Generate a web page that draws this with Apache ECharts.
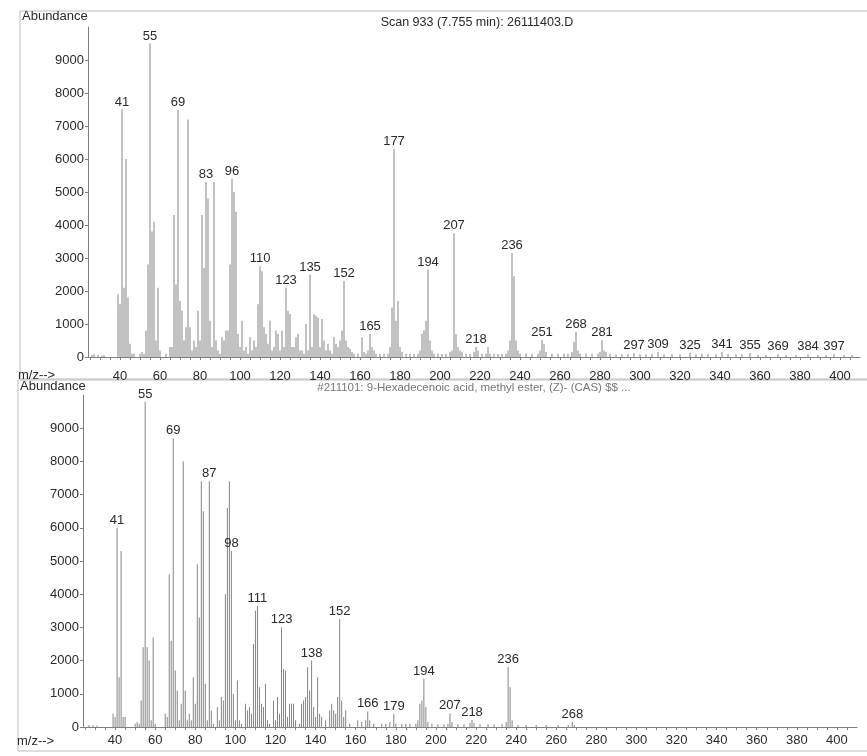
<!DOCTYPE html>
<html>
<head>
<meta charset="utf-8">
<title>Scan 933</title>
<script src="https://cdn.jsdelivr.net/npm/echarts@6.0.0/dist/echarts.min.js"></script>
<style>
  html, body { margin: 0; padding: 0; background: #fff; }
  #main { width: 867px; height: 756px; }
</style>
</head>
<body>
<div id="main"></div>
<script>
// measured scan, [m/z, abundance]
var scanPeaks = [
  [26, 60], [27, 80], [29, 70], [31, 40], [32, 50],
  [39, 1900], [40, 1600], [41, 7500], [42, 2100], [43, 6000], [44, 1800], [45, 400],
  [46, 100], [47, 100], [50, 100], [51, 150], [52, 100],
  [53, 800], [54, 2800], [55, 9500], [56, 3800], [57, 4100], [58, 500], [59, 2100], [60, 200],
  [63, 100], [65, 300], [66, 300],
  [67, 4300], [68, 2200], [69, 7500], [70, 1700], [71, 1400], [72, 500], [73, 900], [74, 7200],
  [75, 900], [76, 200], [77, 500], [78, 300], [79, 1400], [80, 500],
  [81, 4300], [82, 2700], [83, 5300], [84, 4800], [85, 1100], [86, 300], [87, 5300], [88, 500],
  [89, 200], [90, 100], [91, 600], [92, 500], [93, 800], [94, 800],
  [95, 2800], [96, 5400], [97, 5000], [98, 4400], [99, 700], [100, 300], [101, 1100],
  [102, 200], [103, 300], [104, 100], [105, 600], [106, 200], [107, 500], [108, 300],
  [109, 1600], [110, 2750], [111, 2600], [112, 900], [113, 700], [114, 400], [115, 1100],
  [116, 200], [117, 300], [118, 800], [119, 700], [120, 200], [121, 800], [122, 300],
  [123, 2100], [124, 1400], [125, 1300], [126, 300], [127, 300], [128, 600], [129, 700],
  [130, 200], [131, 200], [132, 100], [133, 1000], [134, 200], [135, 2500], [136, 300],
  [137, 1300], [138, 1250], [139, 1200], [140, 300], [141, 1150], [142, 500], [143, 200],
  [144, 400], [145, 200], [146, 100], [147, 600], [148, 400], [149, 300], [150, 500],
  [151, 800], [152, 2300], [153, 500], [154, 300], [155, 250], [156, 150], [157, 100],
  [159, 100], [161, 600], [162, 150], [163, 100], [164, 200], [165, 700], [166, 300],
  [167, 200], [168, 100], [170, 100], [172, 100], [174, 100], [175, 300],
  [176, 1500], [177, 6300], [178, 1100], [179, 1700], [180, 300], [181, 150],
  [183, 100], [185, 100], [187, 100], [189, 100], [190, 200],
  [191, 700], [192, 800], [193, 1100], [194, 2650], [195, 500], [196, 200], [197, 100],
  [199, 100], [201, 100], [203, 100], [205, 150], [206, 200],
  [207, 3750], [208, 700], [209, 300], [210, 200], [211, 150], [213, 100], [215, 100],
  [217, 150], [218, 300], [219, 200], [221, 100], [223, 100], [224, 300], [225, 100],
  [227, 100], [229, 100], [231, 100], [233, 100], [234, 200],
  [235, 500], [236, 3150], [237, 2450], [238, 500], [239, 200], [240, 100],
  [243, 100], [246, 100], [249, 100], [250, 200], [251, 520], [252, 400], [253, 150],
  [256, 100], [259, 100], [262, 100], [264, 100], [266, 150], [267, 460], [268, 760],
  [269, 200], [270, 100], [273, 100], [276, 100], [279, 100], [280, 150], [281, 510],
  [282, 200], [283, 150], [285, 100], [288, 80], [291, 80], [294, 80], [297, 120],
  [300, 80], [303, 80], [306, 100], [309, 150], [312, 80], [316, 80], [320, 80],
  [325, 130], [328, 80], [331, 100], [334, 80], [338, 80], [341, 150], [344, 80],
  [348, 80], [351, 80], [355, 120], [359, 60], [363, 60], [369, 80], [373, 60],
  [378, 60], [384, 80], [389, 60], [393, 60], [397, 80], [402, 60], [406, 60]
];
var scanLabels = [41, 55, 69, 83, 96, 110, 123, 135, 152, 165, 177, 194, 207, 218, 236,
  251, 268, 281, 297, 309, 325, 341, 355, 369, 384, 397];

// library spectrum #211101
var libPeaks = [
  [27, 60], [29, 50], [31, 40],
  [39, 400], [40, 300], [41, 6000], [42, 1500], [43, 5300], [44, 300], [45, 300],
  [50, 100], [51, 150], [52, 100],
  [53, 800], [54, 2400], [55, 9800], [56, 2400], [57, 2000], [58, 200], [59, 2700], [60, 100],
  [65, 400], [66, 300], [67, 4600], [68, 2600], [69, 8700], [70, 1700], [71, 1100], [72, 200],
  [73, 700], [74, 8000], [75, 1100], [76, 200], [77, 400], [78, 200], [79, 1500], [80, 700],
  [81, 4900], [82, 3300], [83, 7400], [84, 6500], [85, 1300], [86, 200], [87, 7400], [88, 500],
  [89, 100], [91, 600], [92, 200], [93, 900], [94, 800],
  [95, 4000], [96, 6600], [97, 7400], [98, 5300], [99, 1000], [100, 200], [101, 1400],
  [102, 200], [103, 100], [105, 700], [106, 500], [107, 600], [108, 400],
  [109, 2500], [110, 3500], [111, 3650], [112, 1200], [113, 700], [114, 600], [115, 1300],
  [116, 200], [117, 100], [119, 800], [120, 200], [121, 900], [122, 400],
  [123, 3000], [124, 1750], [125, 1700], [126, 300], [127, 700], [128, 700], [129, 700],
  [130, 200], [132, 100], [133, 700], [134, 800], [135, 900], [136, 1800], [137, 1100],
  [138, 2000], [139, 600], [140, 300], [141, 1500], [142, 400], [143, 300], [145, 200],
  [147, 500], [148, 700], [149, 500], [150, 400], [151, 900], [152, 3250], [153, 800],
  [154, 300], [155, 500], [157, 100], [161, 200], [163, 150], [165, 200], [166, 470],
  [167, 200], [169, 100], [173, 100], [175, 100], [177, 150], [179, 400], [180, 100],
  [183, 100], [185, 100], [187, 100], [190, 100], [191, 200], [192, 700], [193, 800],
  [194, 1460], [195, 600], [196, 150], [198, 100], [201, 80], [204, 80], [206, 100],
  [207, 410], [208, 150], [211, 80], [214, 80], [217, 120], [218, 210], [219, 120],
  [222, 80], [226, 80], [229, 80], [233, 80], [235, 150], [236, 1800], [237, 1200],
  [238, 200], [241, 60], [245, 60], [250, 60], [255, 60], [261, 60], [266, 60],
  [268, 160], [269, 60]
];
var libLabels = [41, 55, 69, 87, 98, 111, 123, 138, 152, 166, 179, 194, 207, 218, 236, 268];

var mzTicks = [40, 60, 80, 100, 120, 140, 160, 180, 200, 220, 240, 260, 280, 300,
  320, 340, 360, 380, 400];
var abundanceTicks = [0, 1000, 2000, 3000, 4000, 5000, 6000, 7000, 8000, 9000];

var minorMz = [];
for (var t = 25; t <= 405; t += 5) minorMz.push(t);

var font = 'Liberation Sans, Arial, sans-serif';
var ink = '#2a2a2a';
var axisGray = '#808080';

function peakData(peaks, labels) {
  return peaks.map(function (p) {
    if (labels.indexOf(p[0]) >= 0) {
      return { value: p, label: { show: true } };
    }
    return { value: p };
  });
}

function plain(v) {
  return String(v);
}

function xAxisFor(gridIndex, margin) {
  return {
    type: 'value',
    gridIndex: gridIndex,
    min: 24,
    max: 410,
    axisLine: { lineStyle: { color: axisGray } },
    axisTick: { customValues: minorMz, length: 3, lineStyle: { color: axisGray } },
    axisLabel: {
      customValues: mzTicks, margin: margin, formatter: plain,
      color: ink, fontFamily: font, fontSize: 13
    },
    splitLine: { show: false }
  };
}

function yAxisFor(gridIndex) {
  return {
    type: 'value',
    gridIndex: gridIndex,
    min: 0,
    max: 10000,
    axisLine: { show: true, lineStyle: { color: axisGray } },
    axisTick: { show: true, customValues: abundanceTicks, length: 3, lineStyle: { color: axisGray } },
    axisLabel: {
      customValues: abundanceTicks, margin: 4, formatter: plain,
      color: ink, fontFamily: font, fontSize: 13
    },
    splitLine: { show: false }
  };
}

function barsFor(index, peaks, labels) {
  return {
    type: 'bar',
    xAxisIndex: index,
    yAxisIndex: index,
    barWidth: 1,
    silent: true,
    itemStyle: { color: '#858585' },
    label: {
      show: false,
      position: 'top',
      distance: 1,
      color: ink,
      fontFamily: font,
      fontSize: 13,
      formatter: function (p) { return p.value[0]; }
    },
    data: peakData(peaks, labels)
  };
}

var chart = echarts.init(document.getElementById('main'));

var option = {
  animation: false,
  backgroundColor: '#fff',
  grid: [
    { left: 88, right: 7, top: 27, bottom: 399 },
    { left: 83, right: 10, top: 395, bottom: 29 }
  ],
  xAxis: [xAxisFor(0, 13), xAxisFor(1, 7)],
  yAxis: [yAxisFor(0), yAxisFor(1)],
  series: [
    barsFor(0, scanPeaks, scanLabels),
    barsFor(1, libPeaks, libLabels)
  ],
  graphic: [
    // panel frames
    { type: 'rect', shape: { x: 20, y: 11, width: 860, height: 368 }, silent: true,
      style: { fill: 'none', stroke: '#bdbdbd', lineWidth: 1 } },
    { type: 'rect', shape: { x: 18, y: 380, width: 862, height: 371 }, silent: true,
      style: { fill: 'none', stroke: '#bdbdbd', lineWidth: 1 } },
    { type: 'text', left: 22, top: 10,
      style: { text: 'Abundance', fill: ink, font: '13px ' + font } },
    { type: 'text', left: 18, top: 369,
      style: { text: 'm/z-->', fill: ink, font: '13px ' + font } },
    { type: 'text', left: 20, top: 380,
      style: { text: 'Abundance', fill: ink, font: '13px ' + font } },
    { type: 'text', left: 17, top: 735,
      style: { text: 'm/z-->', fill: ink, font: '13px ' + font } },
    { type: 'text', x: 477, y: 23,
      style: { text: 'Scan 933 (7.755 min): 26111403.D', fill: ink,
        font: '12.5px ' + font, align: 'center', verticalAlign: 'middle' } },
    { type: 'text', x: 474, y: 388,
      style: { text: '#211101: 9-Hexadecenoic acid, methyl ester, (Z)- (CAS) $$ ...', fill: '#777',
        font: '11.5px ' + font, align: 'center', verticalAlign: 'middle' } }
  ]
};

chart.setOption(option);
</script>
</body>
</html>
